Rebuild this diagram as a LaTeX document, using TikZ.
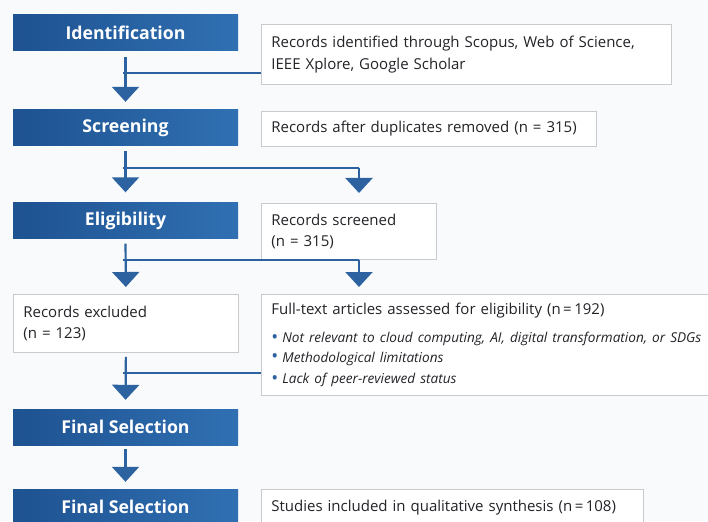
\documentclass[tikz,border=0pt]{standalone}
\usepackage{fontspec}
\setmainfont{Open Sans}
\usetikzlibrary{arrows.meta}
\definecolor{bg}{RGB}{249,250,252}
\definecolor{hdrL}{RGB}{30,82,145}
\definecolor{hdrR}{RGB}{48,112,178}
\definecolor{flowc}{RGB}{45,98,160}
\definecolor{boxline}{RGB}{200,202,206}
\definecolor{txt}{RGB}{35,35,40}
\tikzset{
  hdr/.style={left color=hdrL, right color=hdrR, draw=none, minimum width=225pt, minimum height=36pt,
    text=white, font=\fontsize{17.7}{20}\selectfont\bfseries, inner sep=0pt},
  wbox/.style={fill=white, draw=boxline, line width=0.8pt, anchor=north west, align=left,
    text=txt, font=\fontsize{15}{21.5}\selectfont, inner xsep=10pt, inner ysep=0pt},
  cline/.style={draw=flowc, line width=2.2pt},
  flow/.style={cline, -{Triangle[width=27pt,length=15pt]}},
}
\newcommand{\bul}{\textcolor{flowc}{\raisebox{-0.05ex}{\scalebox{1.35}{\textbullet}}}\hspace{0.3em}}
\begin{document}
\begin{tikzpicture}[x=1pt,y=-1pt]
\fill[bg] (0,0) rectangle (708,521);
\useasboundingbox (0,0) rectangle (708,521);
\clip (0,0) rectangle (708,521);
% left column
\node[hdr] (id) at (125.5,33) {Identification};
\node[hdr] (scr) at (125.5,128) {Screening};
\node[hdr] (eli) at (125.5,220.5) {Eligibility};
\node[wbox, minimum width=225pt, minimum height=58pt, text width=205pt] (exc) at (13,294) {Records excluded\\(n = 123)};
\node[hdr] (fin) at (125.5,427) {Final Selection};
\node[hdr] (fin2) at (125.5,507) {Final Selection};
% right column
\node[wbox, minimum width=410pt, minimum height=60pt, text width=390pt] (rec1) at (261,24) {Records identified through Scopus, Web of Science,\\IEEE Xplore, Google Scholar};
\node[wbox, minimum width=335pt, minimum height=35pt, text width=315pt] (rec2) at (261,111) {Records after duplicates removed (n = 315)};
\node[wbox, minimum width=175pt, minimum height=56pt, text width=155pt] (rec3) at (261,203) {Records screened\\(n = 315)};
\node[wbox, minimum width=445pt, minimum height=101pt, text width=435pt, inner xsep=10pt] (ft) at (261,294) {Full-text articles assessed for eligibility (n\,=\,192)\\[9pt]
{\fontsize{13.6}{19.5}\selectfont\bul\textit{Not relevant to cloud computing, AI, digital transformation, or SDGs}\\
\bul\textit{Methodological limitations}\\
\bul\textit{Lack of peer-reviewed status}}};
\node[wbox, minimum width=382pt, minimum height=36pt, text width=362pt] (stu) at (261,489) {Studies included in qualitative synthesis (n\,=\,108)};
% junction coordinates
\coordinate (j1) at (123,73);
\coordinate (j2) at (123,168);
\coordinate (k2) at (359,168);
\coordinate (j3) at (123,260);
\coordinate (k3) at (359,260);
\coordinate (j4) at (123,373);
% connectors
\draw[flow, shorten <=6pt, shorten >=8pt] (id.south) -- (scr.north);
\draw[cline] (j1) -- (j1 -| rec1.west);
\draw[flow, shorten <=5pt, shorten >=10pt] (scr.south) -- (eli.north);
\draw[cline] (j2) -- (k2);
\draw[flow, shorten >=10pt] (k2) -- (k2 |- rec3.north);
\draw[flow, shorten <=5pt, shorten >=7pt] (eli.south) -- (exc.north);
\draw[cline] (j3) -- (k3);
\draw[flow, shorten >=7pt] (k3) -- (k3 |- ft.north);
\draw[flow, shorten <=4pt, shorten >=9pt] (exc.south) -- (fin.north);
\draw[cline] (j4) -- (j4 -| ft.west);
\draw[flow, shorten <=4pt, shorten >=7pt] (fin.south) -- (fin2.north);
\end{tikzpicture}
\end{document}
